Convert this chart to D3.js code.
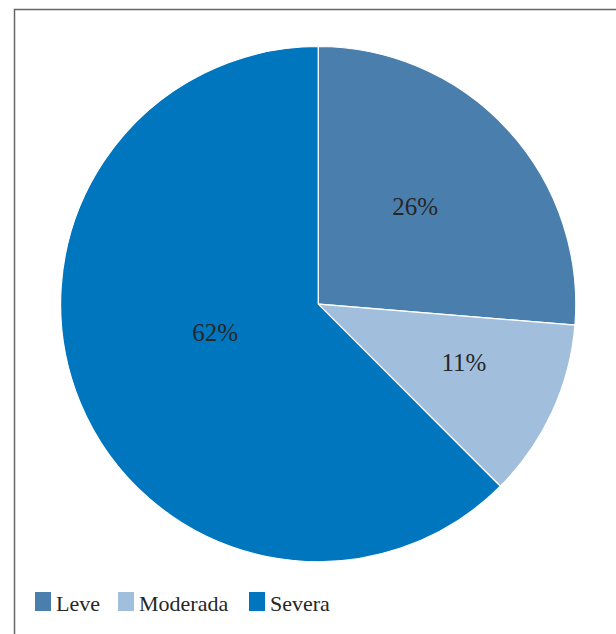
<!DOCTYPE html>
<html>
<head>
<meta charset="utf-8">
<script src="https://cdn.jsdelivr.net/npm/d3@7"></script>
<style>
html,body{margin:0;padding:0;background:#fff;}
svg{display:block;}
</style>
</head>
<body>
<svg id="chart" width="616" height="634"></svg>
<script>
const categories = ["Leve", "Moderada", "Severa"];
const values = [26.3, 11.2, 62.5];
const labels = ["26%", "11%", "62%"];
const colors = ["#4a7fad", "#a1bfdd", "#0076bf"];

const svg = d3.select("#chart");
const W = 616, H = 634;

// frame
svg.append("path")
  .attr("d", `M14.5,${H+5} L14.5,9.5 L${W+5},9.5`)
  .attr("fill", "none")
  .attr("stroke", "#666")
  .attr("stroke-width", 1.5);

const cx = 318.2, cy = 304.1, R = 257.6;
const g = svg.append("g").attr("transform", `translate(${cx},${cy})`);

const data = categories.map((c, i) => ({ cat: c, value: values[i], label: labels[i], color: colors[i] }));
const pie = d3.pie().value(d => d.value).sort(null);
const arcs = pie(data);
const arc = d3.arc().innerRadius(0).outerRadius(R);

g.selectAll("path.slice").data(arcs).enter().append("path")
  .attr("class", "slice")
  .attr("d", arc)
  .attr("fill", d => d.data.color)
  .attr("stroke", "#fff")
  .attr("stroke-width", 1.2);

const labelRadius = [0.535, 0.61, 0.415];
const labelAngleShift = [-0.045, -0.05, 0.12];
g.selectAll("text.lbl").data(arcs).enter().append("text")
  .attr("class", "lbl")
  .each(function(d, i) {
    const a = (d.startAngle + d.endAngle) / 2 + labelAngleShift[i];
    const r = R * labelRadius[i];
    d3.select(this)
      .attr("x", Math.sin(a) * r)
      .attr("y", -Math.cos(a) * r)
  })
  .attr("text-anchor", "middle")
  .attr("dominant-baseline", "central")
  .attr("font-family", "'Liberation Serif', serif")
  .attr("font-size", 25)
  .attr("fill", "#262626")
  .text(d => d.data.label);

// legend
const legendX = [35, 118, 249];
const lg = svg.append("g");
data.forEach((d, i) => {
  lg.append("rect")
    .attr("x", legendX[i]).attr("y", 592)
    .attr("width", 16).attr("height", 19)
    .attr("fill", d.color);
  lg.append("text")
    .attr("x", legendX[i] + 21).attr("y", 610.5)
    .attr("font-family", "'Liberation Serif', serif")
    .attr("font-size", 22)
    .attr("fill", "#262626")
    .text(d.cat);
});
</script>
</body>
</html>
